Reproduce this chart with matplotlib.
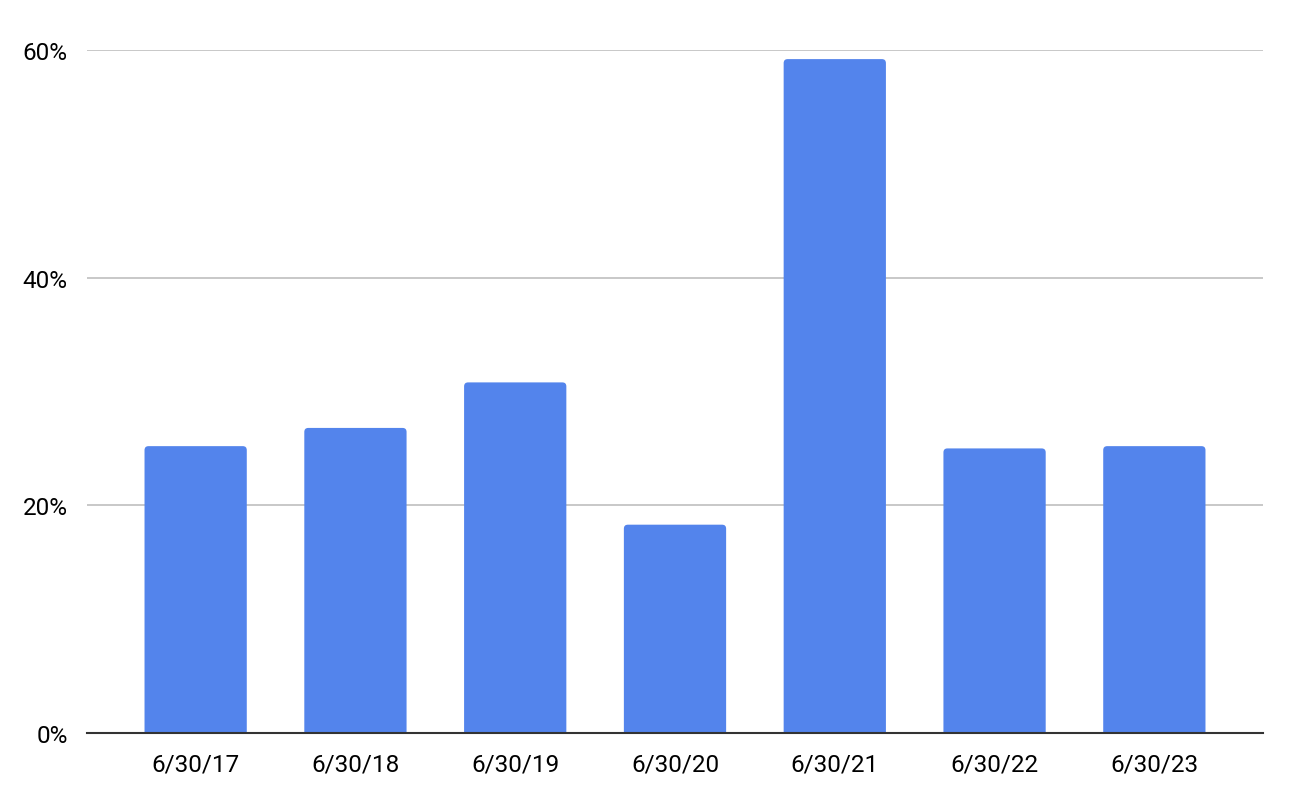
import matplotlib
matplotlib.use('Agg')
import matplotlib.pyplot as plt
from matplotlib.patches import FancyBboxPatch
from matplotlib.ticker import FuncFormatter

dates = ['6/30/17', '6/30/18', '6/30/19', '6/30/20', '6/30/21', '6/30/22', '6/30/23']
values = [25.2, 26.8, 30.8, 18.3, 59.2, 25.0, 25.2]
y_ticks = [0, 20, 40, 60]

plt.rcParams['font.family'] = ['Roboto', 'DejaVu Sans']

fig = plt.figure(figsize=(12.9, 8.04), dpi=100)
ax = fig.add_axes([87 / 1290, 1 - 734 / 804, (1263 - 87) / 1290, (734 - 51) / 804])

x = range(len(dates))
bars = ax.bar(x, values, width=0.64, color='#5384EC', zorder=3)

# swap the square bars for ones with slightly rounded tops
for b in bars:
    b.set_visible(False)
    p = FancyBboxPatch((b.get_x(), -2), b.get_width(), b.get_height() + 2,
                       boxstyle='round,pad=0,rounding_size=0.025',
                       mutation_aspect=14, facecolor='#5384EC',
                       edgecolor='none', zorder=3)
    ax.add_patch(p)

ax.set_xlim(-0.68, len(dates) - 1 + 0.68)
ax.set_ylim(0, 60)
ax.set_yticks(y_ticks)
ax.yaxis.set_major_formatter(FuncFormatter(lambda v, p: f'{v:.0f}%'))
ax.set_xticks(list(x))
ax.set_xticklabels(dates)

ax.grid(axis='y', color='#c8c8c8', linewidth=1.4, zorder=0)
for s in ['top', 'right', 'left']:
    ax.spines[s].set_visible(False)
ax.spines['bottom'].set_color('#333333')
ax.spines['bottom'].set_linewidth(1.5)
ax.spines['bottom'].set_zorder(4)

ax.tick_params(axis='both', length=0, labelsize=17.5, colors='#000000')
ax.tick_params(axis='y', pad=14)
ax.tick_params(axis='x', pad=14)

fig.savefig('out.png', dpi=100)
